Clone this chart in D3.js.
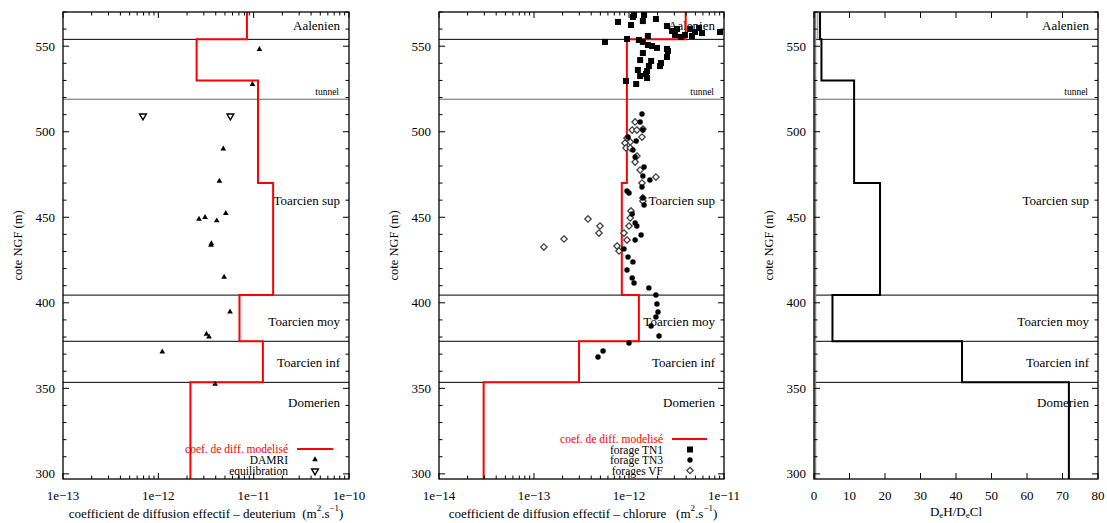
<!DOCTYPE html>
<html><head><meta charset="utf-8">
<script src="https://cdn.jsdelivr.net/npm/d3@7"></script>
<style>
body{margin:0;background:#fff;}
svg{font-family:"Liberation Serif","Times New Roman",serif;}
</style></head>
<body><svg id="c" width="1107" height="523"></svg>
<script>
// ---------- DATA ----------
const layerBounds = [570, 554, 530, 470, 404.5, 377.5, 353.5, 297];
const deutModel = [8.5e-12, 2.52e-12, 1.11e-11, 1.6e-11, 7.1e-12, 1.25e-11, 2.17e-12];
const chlModel  = [3.95e-12, 9.5e-13, 9.5e-13, 8.4e-13, 1.27e-12, 2.98e-13, 2.95e-14];
const ratioModel = [1.7, 2.1, 11.3, 18.6, 5.2, 41.7, 71.8];
const boundaryLines = [554, 404.5, 377.5, 353.5];
const tunnelLevel = 519;
const layerNames = ["Aalenien", "Toarcien sup", "Toarcien moy", "Toarcien inf", "Domerien"];
const layerLabelLevels = [562, 460, 389, 365, 342];

const damriD = [1.15e-11, 9.7e-12, 4.8e-12, 4.37e-12, 5.1e-12, 2.67e-12, 3.09e-12, 4.1e-12, 3.57e-12, 3.6e-12, 4.9e-12, 5.65e-12, 3.2e-12, 3.4e-12, 1.1e-12, 3.94e-12];
const damriZ = [548.2, 527.7, 490, 471.2, 452.3, 449, 450, 448, 433.7, 434.6, 415, 394.7, 381.7, 380.1, 371.3, 352.5];
const equilD = [6.9e-13, 5.7e-12];
const equilZ = [509.2, 509.2];

const tn1D = [1.13e-12,1.44e-12,1.40e-12,1.92e-12,7.66e-13,1.05e-12,2.51e-12,2.84e-12,3.2e-12,3.53e-12,4.39e-12,4.6e-12,5.46e-12,5.87e-12,9.08e-12,1.58e-12,3.88e-12,5.59e-13,9.53e-13,1.27e-12,1.40e-12,1.58e-12,1.75e-12,1.97e-12,2.51e-12,2.57e-12,1.40e-12,2.51e-12,1.31e-12,1.71e-12,2.17e-12,1.62e-12,1.24e-12,1.55e-12,1.31e-12,1.55e-12,9.3e-13,1.19e-12,1.51e-12,2.12e-12,1.10e-12,4.95e-12,3.05e-12];
const tn1Z = [568.2,568.2,564.7,565.9,564.2,562.4,561.8,558.9,560.1,555.4,560.1,556,560.6,557.7,558.3,556,556.6,552.5,554.2,553.6,552.5,550.7,550.1,549,548.4,547.2,546,543.7,541.9,541.4,540.2,538.4,536.1,535.5,532.6,531.4,529.7,527.9,533.8,538.4,567.1,558.3,556.6];

const tn3D = [1.37e-12,1.31e-12,1.40e-12,9.76e-13,1.19e-12,1.10e-12,1.16e-12,1.44e-12,1.40e-12,1.66e-12,1.37e-12,9.53e-13,1.0e-12,1.40e-12,1.44e-12,1.08e-12,1.16e-12,1.21e-12,1.34e-12,1.16e-12,8.86e-13,9.76e-13,1.10e-12,9.53e-13,1.08e-12,1.13e-12,1.62e-12,1.92e-12,1.97e-12,2.02e-12,1.92e-12,1.71e-12,2.07e-12,1.0e-12,5.33e-13,4.72e-13];
const tn3Z = [510.4,505.7,501.0,496.9,494.6,489.3,485.2,479.4,474.1,471.8,467.7,465.4,464.2,461.3,457.2,451.9,446.7,444.9,439.6,436.7,431.5,426.8,423.9,419.2,414.5,411.6,408.7,404.6,399.3,394.6,391.7,386.4,380.6,376.5,371.8,368.3];

const vfD = [1.16e-12,1.08e-12,1.21e-12,1.40e-12,1.37e-12,9.53e-13,1.03e-12,9.08e-13,9.3e-13,1.03e-12,1.21e-12,1.16e-12,1.31e-12,1.92e-12,1.37e-12,1.40e-12,1.40e-12,1.05e-12,1.03e-12,1.0e-12,8.86e-13,9.53e-13,4.95e-13,4.83e-13,3.70e-13,2.07e-13,1.27e-13,7.48e-13,7.85e-13];
const vfZ = [505.7,501.0,501.0,501.6,496.9,496.3,494.0,493.4,490.5,490.5,485.8,482.3,477.6,473.5,470.0,461.3,459.5,453.7,449.6,444.9,440.8,436.7,444.9,440.8,449.0,437.3,432.6,433.2,430.3];

const grayRatioFull = 0.35;
const grayRatioTop = 1.05;

const xDomain1 = [1e-13, 1e-10];
const xDomain2 = [1e-14, 1e-11];
const xDomain3 = [0, 80];
const yDomain = [297, 570];
const logTickLabels1 = ["1e\u221213", "1e\u221212", "1e\u221211", "1e\u221210"];
const logTickLabels2 = ["1e\u221214", "1e\u221213", "1e\u221212", "1e\u221211"];
const linTicks3 = [0, 10, 20, 30, 40, 50, 60, 70, 80];
const yLabelTicks = [300, 350, 400, 450, 500, 550];

// ---------- DRAW ----------
const svg = d3.select("#c");
const TOP = 12, BOT = 479;
const y = d3.scaleLinear().domain(yDomain).range([BOT, TOP]);
const FS = 13;

function stepPoints(vals){
  const pts = [];
  vals.forEach((v,i)=>{ pts.push([v, layerBounds[i]]); pts.push([v, layerBounds[i+1]]); });
  return pts;
}

function frame(x, left, right, opts){
  const g = svg.append("g");
  // boundaries
  boundaryLines.forEach(b=>{
    g.append("line").attr("x1",left).attr("x2",right).attr("y1",y(b)).attr("y2",y(b))
      .attr("stroke","#000").attr("stroke-width",1);
  });
  g.append("line").attr("x1",left).attr("x2",right).attr("y1",y(tunnelLevel)).attr("y2",y(tunnelLevel))
    .attr("stroke","#666").attr("stroke-width",1);
  // labels
  layerNames.forEach((n,i)=>{
    g.append("text").attr("x",right-9).attr("y",y(layerLabelLevels[i])).attr("text-anchor","end")
      .attr("dominant-baseline","central").attr("font-size",FS).text(n);
  });
  g.append("text").attr("x",right-10).attr("y",y(523)).attr("text-anchor","end")
    .attr("dominant-baseline","central").attr("font-size",9.5).text("tunnel");
  return g;
}

function axesOverlay(x, left, right, opts){
  const g = svg.append("g");
  // y ticks
  for (let v=300; v<=570; v+=10){
    const major = v%50===0;
    const L = major?6:3.5;
    g.append("line").attr("x1",left).attr("x2",left+L).attr("y1",y(v)).attr("y2",y(v)).attr("stroke","#000");
    g.append("line").attr("x1",right).attr("x2",right-L).attr("y1",y(v)).attr("y2",y(v)).attr("stroke","#000");
  }
  yLabelTicks.forEach(v=>{
    g.append("text").attr("x",left-8).attr("y",y(v)).attr("text-anchor","end")
      .attr("dominant-baseline","central").attr("font-size",FS).text(v);
  });
  // x ticks
  if (opts.log){
    const [d0,d1] = x.domain();
    const e0 = Math.round(Math.log10(d0)), e1 = Math.round(Math.log10(d1));
    for (let e=e0; e<=e1; e++){
      for (let m=1; m<=9; m++){
        const v = m*Math.pow(10,e);
        if (v>d1*1.0001) break;
        const L = m===1?6:3.5;
        const px = x(v);
        g.append("line").attr("x1",px).attr("x2",px).attr("y1",BOT).attr("y2",BOT-L).attr("stroke","#000");
        g.append("line").attr("x1",px).attr("x2",px).attr("y1",TOP).attr("y2",TOP+L).attr("stroke","#000");
      }
    }
    opts.labels.forEach((t,i)=>{
      g.append("text").attr("x",x(Math.pow(10,e0+i))).attr("y",495).attr("text-anchor","middle")
        .attr("dominant-baseline","central").attr("font-size",FS).text(t);
    });
  } else {
    opts.ticks.forEach(v=>{
      const px = x(v);
      g.append("line").attr("x1",px).attr("x2",px).attr("y1",BOT).attr("y2",BOT-6).attr("stroke","#000");
      g.append("line").attr("x1",px).attr("x2",px).attr("y1",TOP).attr("y2",TOP+6).attr("stroke","#000");
      g.append("text").attr("x",px).attr("y",495).attr("text-anchor","middle")
        .attr("dominant-baseline","central").attr("font-size",FS).text(v);
    });
  }
  g.append("rect").attr("x",left).attr("y",TOP).attr("width",right-left).attr("height",BOT-TOP)
    .attr("fill","none").attr("stroke","#000").attr("stroke-width",1.3);
  // y title
  g.append("text").attr("transform",`translate(${opts.ytx},${(TOP+BOT)/2}) rotate(-90)`)
    .attr("text-anchor","middle").attr("dominant-baseline","central").attr("font-size",12.5).text("cote NGF (m)");
  return g;
}

const line = (x)=> d3.line().x(d=>x(d[0])).y(d=>y(d[1]));

const triSym = d3.symbol().type(d3.symbolTriangle).size(14);
const invSym = d3.symbol().type(d3.symbolTriangle).size(20);
const diamondPath = "M0,-3.2L3.2,0L0,3.2L-3.2,0Z";

// ===== Panel 1 =====
const L1=63, R1=349;
const x1 = d3.scaleLog().domain(xDomain1).range([L1,R1]);
frame(x1,L1,R1);
svg.append("path").attr("d",line(x1)(stepPoints(deutModel))).attr("fill","none")
  .attr("stroke","#ff0000").attr("stroke-width",2).attr("stroke-linejoin","miter");
damriD.forEach((d,i)=>{
  svg.append("path").attr("d",triSym()).attr("transform",`translate(${x1(d)},${y(damriZ[i])})`).attr("fill","#000");
});
equilD.forEach((d,i)=>{
  svg.append("path").attr("d",invSym()).attr("transform",`translate(${x1(d)},${y(equilZ[i])}) rotate(180)`)
    .attr("fill","#fff").attr("stroke","#000").attr("stroke-width",1.4);
});
// legend 1
svg.append("text").attr("x",288).attr("y",449).attr("text-anchor","end").attr("dominant-baseline","central")
  .attr("font-size",11.5).attr("fill","#ff0000").text("coef. de diff. modelisé");
svg.append("line").attr("x1",297).attr("x2",333).attr("y1",449).attr("y2",449).attr("stroke","#ff0000").attr("stroke-width",2);
svg.append("text").attr("x",288).attr("y",460).attr("text-anchor","end").attr("dominant-baseline","central")
  .attr("font-size",11.5).text("DAMRI");
svg.append("path").attr("d",triSym()).attr("transform","translate(315,459.5)").attr("fill","#000");
svg.append("text").attr("x",288).attr("y",471).attr("text-anchor","end").attr("dominant-baseline","central")
  .attr("font-size",11.5).text("equilibration");
svg.append("path").attr("d",invSym()).attr("transform","translate(315,471) rotate(180)")
  .attr("fill","#fff").attr("stroke","#000").attr("stroke-width",1.4);
axesOverlay(x1,L1,R1,{log:true,labels:logTickLabels1,ytx:18});
const t1 = svg.append("text").attr("x",(L1+R1)/2).attr("y",513).attr("text-anchor","middle")
  .attr("dominant-baseline","central").attr("font-size",FS);
t1.append("tspan").text("coefficient de diffusion effectif \u2013 deuterium\u00a0\u00a0(m");
t1.append("tspan").attr("font-size",9).attr("dy",-5).text("2");
t1.append("tspan").attr("dy",5).text(".s");
t1.append("tspan").attr("font-size",9).attr("dy",-5).text("\u22121");
t1.append("tspan").attr("dy",5).text(")");

// ===== Panel 2 =====
const L2=439, R2=724;
const x2 = d3.scaleLog().domain(xDomain2).range([L2,R2]);
frame(x2,L2,R2);
svg.append("path").attr("d",line(x2)(stepPoints(chlModel))).attr("fill","none")
  .attr("stroke","#ff0000").attr("stroke-width",2).attr("stroke-linejoin","miter");
const clip2 = svg.append("defs").append("clipPath").attr("id","cp2");
clip2.append("rect").attr("x",L2).attr("y",TOP).attr("width",R2-L2).attr("height",BOT-TOP);
const pts2 = svg.append("g").attr("clip-path","url(#cp2)");
vfD.forEach((d,i)=>{
  pts2.append("path").attr("d",diamondPath).attr("transform",`translate(${x2(d)},${y(vfZ[i])})`)
    .attr("fill","#fff").attr("stroke","#444").attr("stroke-width",1.3);
});
tn3D.forEach((d,i)=>{
  pts2.append("circle").attr("cx",x2(d)).attr("cy",y(tn3Z[i])).attr("r",2.7).attr("fill","#000");
});
tn1D.forEach((d,i)=>{
  pts2.append("rect").attr("x",x2(d)-3).attr("y",y(tn1Z[i])-3).attr("width",6).attr("height",6).attr("fill","#000");
});
// legend 2
svg.append("text").attr("x",663).attr("y",439).attr("text-anchor","end").attr("dominant-baseline","central")
  .attr("font-size",11.5).attr("fill","#ff0000").text("coef. de diff. modelisé");
svg.append("line").attr("x1",672).attr("x2",707).attr("y1",439).attr("y2",439).attr("stroke","#ff0000").attr("stroke-width",2);
svg.append("text").attr("x",663).attr("y",449.5).attr("text-anchor","end").attr("dominant-baseline","central")
  .attr("font-size",11.5).text("forage TN1");
svg.append("rect").attr("x",687).attr("y",446.5).attr("width",6).attr("height",6).attr("fill","#000");
svg.append("text").attr("x",663).attr("y",460).attr("text-anchor","end").attr("dominant-baseline","central")
  .attr("font-size",11.5).text("forage TN3");
svg.append("circle").attr("cx",690).attr("cy",460).attr("r",2.7).attr("fill","#000");
svg.append("text").attr("x",663).attr("y",471).attr("text-anchor","end").attr("dominant-baseline","central")
  .attr("font-size",11.5).text("forages VF");
svg.append("path").attr("d",diamondPath).attr("transform","translate(690,470.5)")
  .attr("fill","#fff").attr("stroke","#444").attr("stroke-width",1.3);
axesOverlay(x2,L2,R2,{log:true,labels:logTickLabels2,ytx:394});
const t2 = svg.append("text").attr("x",583).attr("y",513).attr("text-anchor","middle")
  .attr("dominant-baseline","central").attr("font-size",FS);
t2.append("tspan").text("coefficient de diffusion effectif \u2013 chlorure\u00a0\u00a0\u00a0(m");
t2.append("tspan").attr("font-size",9).attr("dy",-5).text("2");
t2.append("tspan").attr("dy",5).text(".s");
t2.append("tspan").attr("font-size",9).attr("dy",-5).text("\u22121");
t2.append("tspan").attr("dy",5).text(")");

// ===== Panel 3 =====
const L3=814, R3=1098;
const x3 = d3.scaleLinear().domain(xDomain3).range([L3,R3]);
frame(x3,L3,R3);
svg.append("line").attr("x1",x3(grayRatioFull)).attr("x2",x3(grayRatioFull)).attr("y1",TOP).attr("y2",BOT)
  .attr("stroke","#888").attr("stroke-width",2);
svg.append("line").attr("x1",x3(grayRatioTop)).attr("x2",x3(grayRatioTop)).attr("y1",TOP).attr("y2",y(554))
  .attr("stroke","#999").attr("stroke-width",1.2);
svg.append("path").attr("d",line(x3)(stepPoints(ratioModel))).attr("fill","none")
  .attr("stroke","#000").attr("stroke-width",2).attr("stroke-linejoin","miter");
axesOverlay(x3,L3,R3,{log:false,ticks:linTicks3,ytx:769});
const t3 = svg.append("text").attr("x",(L3+R3)/2).attr("y",511).attr("text-anchor","middle")
  .attr("dominant-baseline","central").attr("font-size",FS);
t3.append("tspan").text("D");
t3.append("tspan").attr("font-size",9).attr("dy",4).text("e");
t3.append("tspan").attr("dy",-4).text("H/D");
t3.append("tspan").attr("font-size",9).attr("dy",4).text("e");
t3.append("tspan").attr("dy",-4).text("Cl");
</script></body></html>
